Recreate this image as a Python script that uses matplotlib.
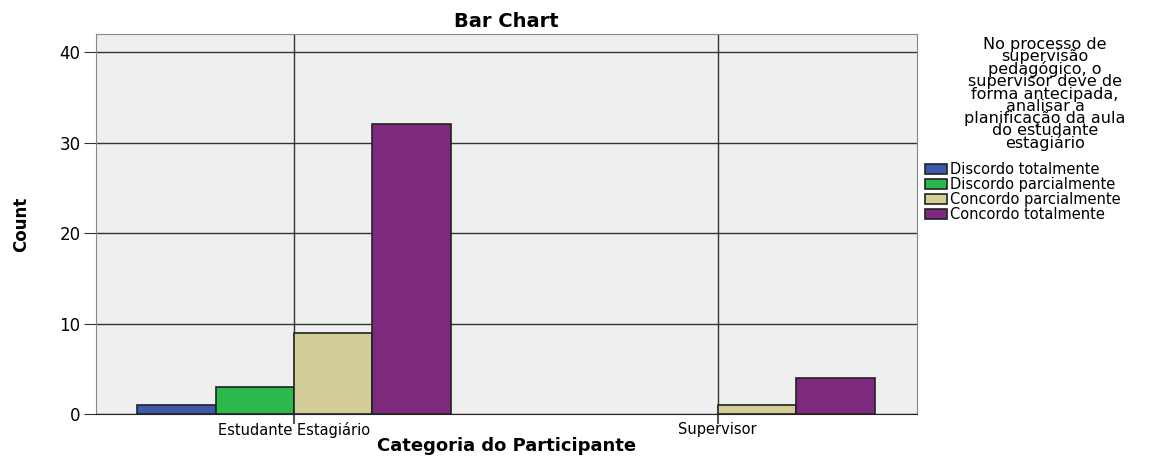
import matplotlib.pyplot as plt
import numpy as np

categories = ['Estudante Estagiário', 'Supervisor']
responses = ['Discordo totalmente', 'Discordo parcialmente',
             'Concordo parcialmente', 'Concordo totalmente']
counts = {
    'Discordo totalmente': [1, 0],
    'Discordo parcialmente': [3, 0],
    'Concordo parcialmente': [9, 1],
    'Concordo totalmente': [32, 4],
}
colors = ['#3E58AC', '#2DB84B', '#D3CE98', '#7D2A7E']
legend_title = ('No processo de\nsupervisão\npedagógico, o\nsupervisor deve de\n'
                'forma antecipada,\nanalisar a\nplanificação da aula\ndo estudante\nestagiário')

plt.rcParams['font.family'] = ['DejaVu Sans']

fig = plt.figure(figsize=(11.69, 4.57), dpi=100)
ax = fig.add_axes([96/1169, 43/457, (917-96)/1169, (414-34)/457])
ax.set_facecolor('#EFEFEF')

x = np.arange(len(categories))
w = 0.185
handles = []
for i, (resp, col) in enumerate(zip(responses, colors)):
    vals = counts[resp]
    lw = [1.2 if v > 0 else 0 for v in vals]
    b = ax.bar(x + (i - 1.5) * w, vals, w, color=col, edgecolor='#222222',
               linewidth=lw, zorder=3, label=resp)
    handles.append(b)

ax.set_xlim(-0.467, 1.47)
ax.set_ylim(0, 42)
ax.set_yticks([0, 10, 20, 30, 40])
ax.set_xticks(x)
ax.set_xticklabels(categories, fontsize=10.5)
ax.grid(True, color='#333333', linewidth=1.0, zorder=1)
for s in ['top', 'right', 'left']:
    ax.spines[s].set_color('#888888')
ax.spines['bottom'].set_color('#222222')
ax.tick_params(axis='y', labelsize=12, length=9, color='#333333', pad=2)
ax.tick_params(axis='x', length=7, color='#555555', width=1.5, pad=-1)

ax.set_title('Bar Chart', fontsize=14, fontweight='bold', pad=5)
ax.set_xlabel('Categoria do Participante', fontsize=13, fontweight='bold', labelpad=-1)
ax.set_ylabel('Count', fontsize=12, fontweight='bold', labelpad=21)

fig.text(1045/1169, 1 - 37/457, legend_title, ha='center', va='top', fontsize=11.5,
         linespacing=0.77)
leg = fig.legend(handles=handles, labels=responses, loc='upper left',
                 bbox_to_anchor=(919/1169, 1 - 156/457), frameon=False,
                 fontsize=10.5, handlelength=1.5, handleheight=0.7,
                 handletextpad=0.25, labelspacing=0.0, borderaxespad=0)

fig.savefig('out.png', dpi=100)
